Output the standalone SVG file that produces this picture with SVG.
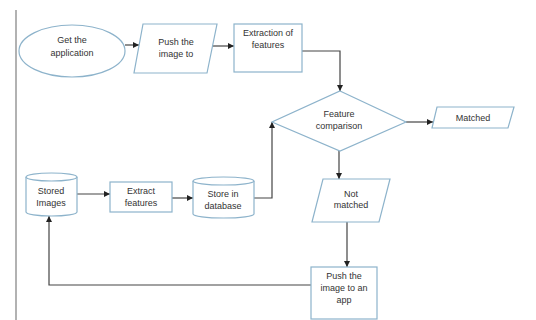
<svg xmlns="http://www.w3.org/2000/svg" width="536" height="320" viewBox="0 0 536 320">
<style>
.n{fill:#fff;stroke:#8db3cb;stroke-width:1.2}
.t{font-family:"Liberation Sans",Arial,sans-serif;font-size:9px;fill:#333;text-anchor:middle}
.c{fill:none;stroke:#444;stroke-width:1.2}
</style>
<defs>
<marker id="a" markerUnits="userSpaceOnUse" markerWidth="7" markerHeight="6" refX="6" refY="3" orient="auto">
<path d="M0,0 L6,3 L0,6 Z" fill="#222"/>
</marker>
</defs>
<rect width="536" height="320" fill="#fff"/>
<line x1="16" y1="10" x2="16" y2="320" stroke="#999" stroke-width="1.5"/>
<g id="connectors">
<path class="c" d="M125,45 L139,45" marker-end="url(#a)"/>
<path class="c" d="M212,46 L234,46" marker-end="url(#a)"/>
<path class="c" d="M302,51 L340,51 L340,91" marker-end="url(#a)"/>
<path class="c" d="M406,122 L433,122" marker-end="url(#a)"/>
<path class="c" d="M339,151 L339,179" marker-end="url(#a)"/>
<path class="c" d="M347,222 L347,267" marker-end="url(#a)"/>
<path class="c" d="M311,285 L49,285 L49,216" marker-end="url(#a)"/>
<path class="c" d="M77,194 L110,194" marker-end="url(#a)"/>
<path class="c" d="M172,198 L193,198" marker-end="url(#a)"/>
<path class="c" d="M254,198 L272,198 L272,122" marker-end="url(#a)"/>
</g>
<g id="get-app">
<ellipse class="n" cx="72" cy="51" rx="53" ry="26"/>
<text class="t" x="72" y="43">Get the</text>
<text class="t" x="72" y="56">application</text>
</g>
<g id="push-image">
<path class="n" d="M143,24 L217,24 L207,73 L134,73 Z"/>
<text class="t" x="176" y="45">Push the</text>
<text class="t" x="176" y="57">image to</text>
</g>
<g id="extraction">
<rect class="n" x="234" y="24" width="68" height="48"/>
<text class="t" x="268" y="36">Extraction of</text>
<text class="t" x="268" y="48">features</text>
</g>
<g id="comparison">
<path class="n" d="M340,91 L406,122 L340,151 L272,122 Z"/>
<text class="t" x="339" y="117">Feature</text>
<text class="t" x="339" y="129">comparison</text>
</g>
<g id="matched">
<path class="n" d="M437,107 L514,107 L508,128 L432,128 Z"/>
<text class="t" x="473" y="121">Matched</text>
</g>
<g id="not-matched">
<path class="n" d="M323,179 L390,179 L379,222 L312,222 Z"/>
<text class="t" x="351" y="197">Not</text>
<text class="t" x="351" y="208">matched</text>
</g>
<g id="push-app">
<rect class="n" x="311" y="267" width="66" height="52"/>
<text class="t" x="344" y="279">Push the</text>
<text class="t" x="344" y="291">image to an</text>
<text class="t" x="344" y="303">app</text>
</g>
<g id="stored-images">
<path class="n" d="M26,177 A25.5,4 0 0 1 77,177 L77,212 A25.5,4 0 0 1 26,212 Z"/>
<path class="n" d="M26,177 A25.5,4 0 0 0 77,177" fill="none"/>
<text class="t" x="51" y="194">Stored</text>
<text class="t" x="51" y="206">Images</text>
</g>
<g id="extract-features">
<rect class="n" x="110" y="182" width="62" height="30"/>
<text class="t" x="141" y="194">Extract</text>
<text class="t" x="141" y="206">features</text>
</g>
<g id="store-db">
<path class="n" d="M193,181 A30.5,4 0 0 1 254,181 L254,214 A30.5,4 0 0 1 193,214 Z"/>
<path class="n" d="M193,181 A30.5,4 0 0 0 254,181" fill="none"/>
<text class="t" x="223" y="197">Store in</text>
<text class="t" x="223" y="209">database</text>
</g>
</svg>
